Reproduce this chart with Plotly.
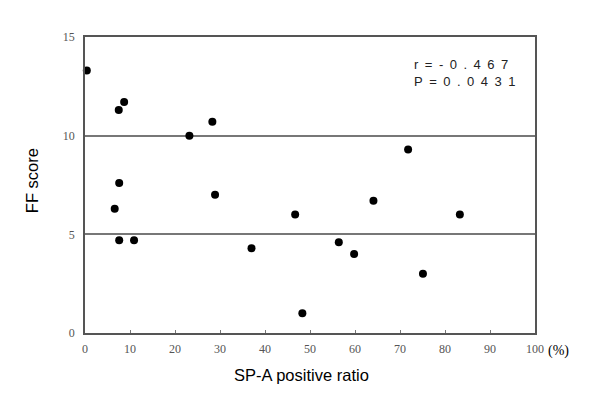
import plotly.graph_objects as go

# SP-A positive ratio (%) vs FF score
sp_a_ratio = [0.4, 7.5, 8.7, 7.6, 6.6, 7.6, 10.9, 23.2, 28.3, 28.9,
              37.0, 46.7, 48.3, 56.4, 59.8, 64.1, 71.8, 75.1, 83.3]
ff_score = [13.3, 11.3, 11.7, 7.6, 6.3, 4.7, 4.7, 10.0, 10.7, 7.0,
            4.3, 6.0, 1.0, 4.6, 4.0, 6.7, 9.3, 3.0, 6.0]

x_ticks = [0, 10, 20, 30, 40, 50, 60, 70, 80, 90, 100]
y_ticks = [0, 5, 10, 15]

sp = "\u2002"
stats_text = sp.join("r=-0.467") + "<br>" + sp.join("P=0.0431")

fig = go.Figure()
fig.add_trace(go.Scatter(
    x=sp_a_ratio, y=ff_score, mode="markers",
    marker=dict(color="black", size=8),
    cliponaxis=False, showlegend=False,
))

serif = "Liberation Serif, DejaVu Serif, serif"
sans = "Liberation Sans, Arial, sans-serif"

fig.update_xaxes(
    range=[0, 100], tickvals=x_ticks, ticktext=[str(v) for v in x_ticks],
    showgrid=False, zeroline=False,
    showline=True, linecolor="#555", linewidth=1.5, mirror=True,
    ticks="inside", ticklen=3, tickcolor="#777", tickwidth=1,
    tickfont=dict(family=serif, size=12, color="#555"), ticklabelstandoff=4,
)
fig.update_yaxes(
    range=[0, 15], tickvals=y_ticks,
    showgrid=True, gridcolor="#777", gridwidth=1.5, zeroline=False,
    showline=True, linecolor="#555", linewidth=1.5, mirror=True,
    ticks="", tickfont=dict(family=serif, size=12, color="#555"), ticklabelstandoff=6,
)

fig.add_annotation(x=1, y=0, xref="paper", yref="paper", xanchor="left", yanchor="top",
                   xshift=11, yshift=-8, text="(%)", showarrow=False,
                   font=dict(family=serif, size=14, color="black"))
fig.add_annotation(x=72.6, y=13.16, xref="x", yref="y", xanchor="left", yanchor="middle",
                   text=stats_text, align="left", showarrow=False,
                   font=dict(family=sans, size=13, color="#222"))
fig.add_annotation(x=0.48, y=0, xref="paper", yref="paper", yshift=-42,
                   xanchor="center", yanchor="middle",
                   text="SP-A positive ratio", showarrow=False,
                   font=dict(family=sans, size=16.5, color="black"))
fig.add_annotation(text="FF score", showarrow=False, textangle=-90,
                   xref="paper", yref="paper", x=0, y=0.513, xshift=-53,
                   xanchor="center", yanchor="middle",
                   font=dict(family=sans, size=16.5, color="black"))

fig.update_layout(
    width=592, height=402,
    margin=dict(l=77, r=65, t=29, b=77),
    plot_bgcolor="white", paper_bgcolor="white",
)

fig.write_html("out.html")
